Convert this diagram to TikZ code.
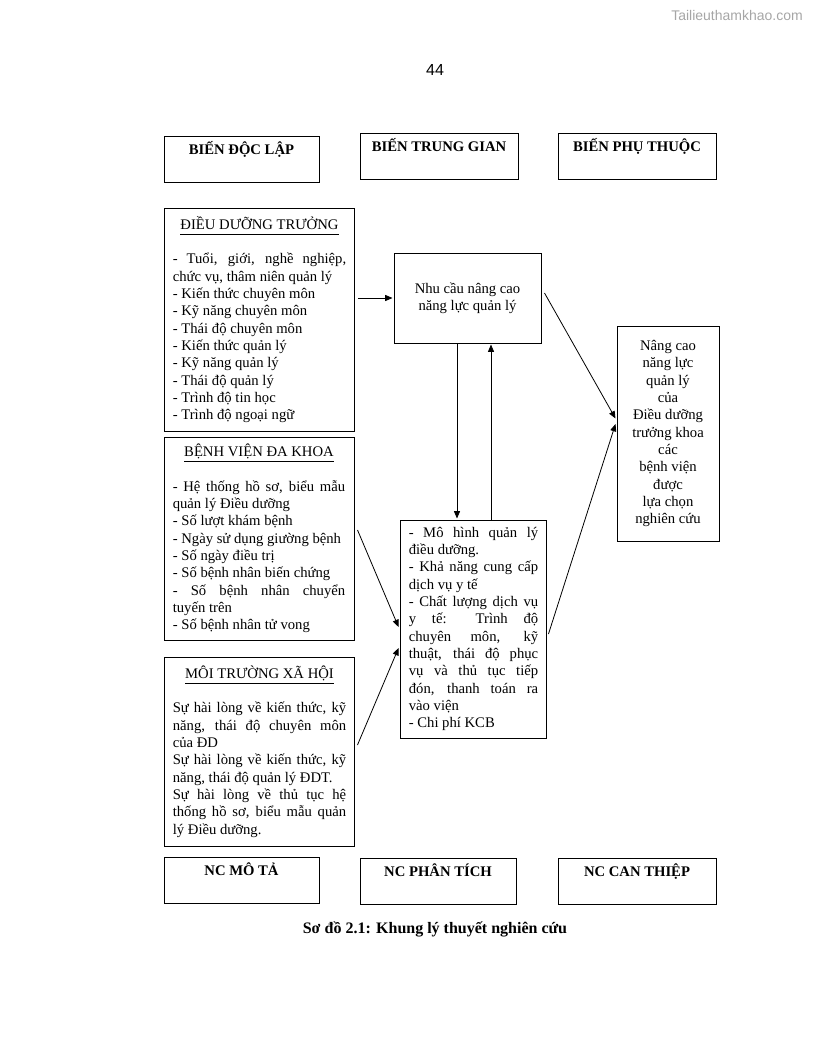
\documentclass[tikz,border=0pt]{standalone}
\usepackage{fontspec}
\setmainfont{Liberation Serif}
\newfontfamily\pagesans{Liberation Sans}
\usetikzlibrary{arrows.meta, calc}

\newcommand{\boxfont}{\fontsize{11}{13}\selectfont\parindent=0pt\hyphenpenalty=10000\tolerance=10000\hbadness=10000}
\newcommand{\boxtitle}[1]{\makebox[\hsize]{\underline{\vphantom{y}#1}}\par\vskip13pt}

\begin{document}
\begin{tikzpicture}[x=0.75pt, y=-0.75pt,
  box/.style={draw, line width=0.75pt, font=\boxfont},
  hdrbox/.style={box, align=center, minimum width=#1, minimum height=34.5pt, inner sep=0pt, font=\boxfont\bfseries},
  listbox/.style={box, align=justify, inner xsep=6.6pt, inner ysep=0pt},
  arr/.style={-{Triangle[length=5.5pt,width=4.5pt]}, line width=0.6pt}]
  \useasboundingbox (0,0) rectangle (816,1056);

  % page number and watermark
  \node [font=\pagesans\fontsize{12}{14}\selectfont] (pageno) at (435,70) {44};
  \node [font=\pagesans\fontsize{10.5}{12}\selectfont, text=black!35] (watermark) at (737,15) {Tailieuthamkhao.com};

  % column headers
  \node [hdrbox=116.25pt] (bdl) at (241.5,159.5) {\strut BIẾN ĐỘC LẬP\\\strut};
  \node [hdrbox=118.5pt] (btg) at (439,156.5) {\strut BIẾN TRUNG GIAN\\\strut};
  \node [hdrbox=118.5pt] (bpt) at (637,156.5) {\strut BIẾN PHỤ THUỘC\\\strut};

  % independent variables
  \node [listbox, text width=130pt, minimum height=167.25pt] (ddt) at (259.5,319.5) {%
    \boxtitle{ĐIỀU DƯỠNG TRƯỞNG}
    - Tuổi, giới, nghề nghiệp,\linebreak chức vụ, thâm niên quản lý\par
    - Kiến thức chuyên môn\par
    - Kỹ năng chuyên môn\par
    - Thái độ chuyên môn\par
    - Kiến thức quản lý\par
    - Kỹ năng quản lý\par
    - Thái độ quản lý\par
    - Trình độ tin học\par
    - Trình độ ngoại ngữ};

  \node [listbox, text width=129.3pt, minimum height=152.25pt] (bvdk) at (259,538.5) {%
    \boxtitle{BỆNH VIỆN ĐA KHOA}
    - Hệ thống hồ sơ, biểu mẫu\linebreak quản lý Điều dưỡng\par
    - Số lượt khám bệnh\par
    - Ngày sử dụng giường bệnh\par
    - Số ngày điều trị\par
    - Số bệnh nhân biến chứng\par
    - Số bệnh nhân chuyển\linebreak tuyến trên\par
    - Số bệnh nhân tử vong};

  \node [listbox, text width=130pt, minimum height=141.75pt] (mtxh) at (259.5,751.5) {%
    \boxtitle{MÔI TRƯỜNG XÃ HỘI}
    Sự hài lòng về kiến thức, kỹ\linebreak năng, thái độ chuyên môn\linebreak của ĐD\par
    Sự hài lòng về kiến thức, kỹ\linebreak năng, thái độ quản lý ĐDT.\par
    Sự hài lòng về thủ tục hệ\linebreak thống hồ sơ, biểu mẫu quản\linebreak lý Điều dưỡng.};

  % intermediate variables
  \node [box, align=center, minimum width=110.25pt, minimum height=67.5pt] (nhucau) at (467.5,298) {Nhu cầu nâng cao\\năng lực quản lý};

  \node [listbox, text width=97pt, minimum height=163.5pt] (mohinh) at (473.5,629) {%
    - Mô hình quản lý\linebreak điều dưỡng.\par
    - Khả năng cung cấp\linebreak dịch vụ y tế\par
    - Chất lượng dịch vụ\linebreak y tế: Trình độ\linebreak chuyên môn, kỹ\linebreak thuật, thái độ phục\linebreak vụ và thủ tục tiếp\linebreak đón, thanh toán ra\linebreak vào viện\par
    - Chi phí KCB};

  % dependent variable
  \node [box, align=center, minimum width=76.5pt, minimum height=161.25pt] (nangcao) at (668,433.5) {Nâng cao\\năng lực\\quản lý\\của\\Điều dưỡng\\trưởng khoa\\các\\bệnh viện\\được\\lựa chọn\\nghiên cứu};

  % study types
  \node [hdrbox=116.25pt] (ncmt) at (241.5,880.5) {\strut NC MÔ TẢ\\\strut};
  \node [hdrbox=117pt] (ncpt) at (438,881) {\strut NC PHÂN TÍCH\\\strut};
  \node [hdrbox=118.5pt] (ncct) at (637,881) {\strut NC CAN THIỆP\\\strut};

  \node [font=\bfseries\fontsize{12}{14}\selectfont] (caption) at (435,929) {Sơ đồ 2.1: Khung lý thuyết nghiên cứu};

  % arrows
  \draw [arr] ($(ddt.east |- nhucau.west)+(3,0)$) -- ($(nhucau.west)+(-1,0)$);
  \draw [arr] ($(nhucau.east)+(3,-5)$) -- ($(nangcao.west)+(-1,-15)$);
  \draw [arr] ($(nhucau.south)+(-10.5,0)$) -- ($(nhucau.south |- mohinh.north)+(-10.5,-1)$);
  \draw [arr] ($(nhucau.south |- mohinh.north)+(23.5,0)$) -- ($(nhucau.south)+(23.5,1)$);
  \draw [arr] ($(bvdk.east)+(3,-8.5)$) -- ($(mohinh.west)+(-1,-2)$);
  \draw [arr] ($(mtxh.east)+(2,-6.5)$) -- ($(mohinh.west)+(-1,19)$);
  \draw [arr] ($(mohinh.east)+(1,5)$) -- ($(nangcao.west)+(-1,-9.5)$);
\end{tikzpicture}
\end{document}
